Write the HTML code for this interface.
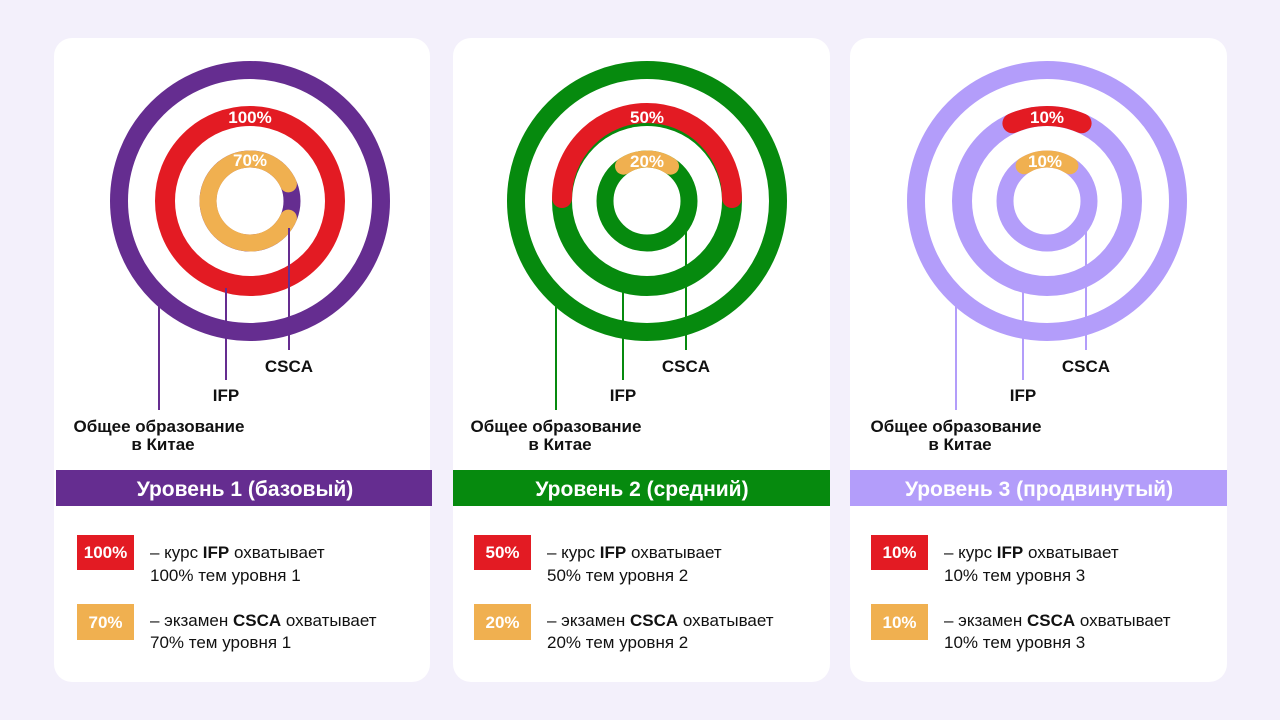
<!DOCTYPE html>
<html><head><meta charset="utf-8"><style>
html,body{margin:0;padding:0;background:#f3f0fb;}
svg{display:block;font-family:"Liberation Sans","DejaVu Sans",sans-serif;}
</style></head><body>
<svg width="1280" height="720" viewBox="0 0 1280 720" xmlns="http://www.w3.org/2000/svg">
<rect width="1280" height="720" fill="#f3f0fb"/>
<rect x="54" y="38" width="376" height="644" rx="18" fill="#fff"/>
<rect x="453" y="38" width="377" height="644" rx="18" fill="#fff"/>
<rect x="850" y="38" width="377" height="644" rx="18" fill="#fff"/>

<g transform="translate(250,0)" fill="none">
 <circle cx="0" cy="201" r="131" stroke="#652d90" stroke-width="18"/>
 <circle cx="0" cy="201" r="85" stroke="#e31b23" stroke-width="20"/>
 <circle cx="0" cy="201" r="42" stroke="#652d90" stroke-width="17"/>
 <path d="M38.4 218.1 A42 42 0 1 1 38.4 183.9" stroke="#f0b050" stroke-width="17" stroke-linecap="round"/>
 <line x1="-91" y1="305" x2="-91" y2="410" stroke="#652d90" stroke-width="2"/>
 <line x1="-24" y1="288" x2="-24" y2="380" stroke="#652d90" stroke-width="2"/>
 <line x1="39" y1="228" x2="39" y2="350" stroke="#652d90" stroke-width="2"/>
</g>
<g transform="translate(647,0)" fill="none">
 <circle cx="0" cy="201" r="131" stroke="#068a0e" stroke-width="18"/>
 <circle cx="0" cy="201" r="85" stroke="#068a0e" stroke-width="20"/>
 <circle cx="0" cy="201" r="42" stroke="#068a0e" stroke-width="17"/>
 <path d="M-85 198 A85 85 0 0 1 85 198" stroke="#e31b23" stroke-width="20" stroke-linecap="round"/>
 <path d="M-23.5 166.2 A42 42 0 0 1 23.5 166.2" stroke="#f0b050" stroke-width="17" stroke-linecap="round"/>
 <line x1="-91" y1="305" x2="-91" y2="410" stroke="#068a0e" stroke-width="2"/>
 <line x1="-24" y1="288" x2="-24" y2="380" stroke="#068a0e" stroke-width="2"/>
 <line x1="39" y1="228" x2="39" y2="350" stroke="#068a0e" stroke-width="2"/>
</g>
<g transform="translate(1047,0)" fill="none">
 <circle cx="0" cy="201" r="131" stroke="#b39dfa" stroke-width="18"/>
 <circle cx="0" cy="201" r="85" stroke="#b39dfa" stroke-width="20"/>
 <circle cx="0" cy="201" r="42" stroke="#b39dfa" stroke-width="17"/>
 <path d="M-34.6 123.3 A85 85 0 0 1 34.6 123.3" stroke="#e31b23" stroke-width="20" stroke-linecap="round"/>
 <path d="M-22.9 165.8 A42 42 0 0 1 22.9 165.8" stroke="#f0b050" stroke-width="17" stroke-linecap="round"/>
 <line x1="-91" y1="305" x2="-91" y2="410" stroke="#b39dfa" stroke-width="2"/>
 <line x1="-24" y1="288" x2="-24" y2="380" stroke="#b39dfa" stroke-width="2"/>
 <line x1="39" y1="228" x2="39" y2="350" stroke="#b39dfa" stroke-width="2"/>
</g>

<g font-weight="bold" fill="#fff" text-anchor="middle" font-size="17">
 <text x="250" y="123">100%</text><text x="250" y="166">70%</text>
 <text x="647" y="123">50%</text><text x="647" y="167">20%</text>
 <text x="1047" y="123">10%</text><text x="1045" y="167">10%</text>
</g>

<g fill="#111" font-size="17" font-weight="bold" text-anchor="middle">
 <text x="289" y="372">CSCA</text><text x="226" y="401">IFP</text>
 <text x="159" y="432">Общее образование</text><text x="163" y="450">в Китае</text>
 <text x="686" y="372">CSCA</text><text x="623" y="401">IFP</text>
 <text x="556" y="432">Общее образование</text><text x="560" y="450">в Китае</text>
 <text x="1086" y="372">CSCA</text><text x="1023" y="401">IFP</text>
 <text x="956" y="432">Общее образование</text><text x="960" y="450">в Китае</text>
</g>

<rect x="56" y="470" width="376" height="36" fill="#652d90"/>
<rect x="453" y="470" width="377" height="36" fill="#068a0e"/>
<rect x="850" y="470" width="377" height="36" fill="#b39dfa"/>
<g fill="#fff" font-size="21" font-weight="bold" text-anchor="middle">
 <text x="245" y="496">Уровень 1 (базовый)</text>
 <text x="642" y="496">Уровень 2 (средний)</text>
 <text x="1039" y="496">Уровень 3 (продвинутый)</text>
</g>

<g font-size="17" fill="#111">
 <g>
  <rect x="77" y="535" width="57" height="35" fill="#e31b23"/>
  <rect x="77" y="604" width="57" height="36" fill="#f0b050"/>
  <text x="105.5" y="558" fill="#fff" font-weight="bold" text-anchor="middle">100%</text>
  <text x="105.5" y="628" fill="#fff" font-weight="bold" text-anchor="middle">70%</text>
  <text x="150" y="558">– курс <tspan font-weight="bold">IFP</tspan> охватывает</text>
  <text x="150" y="581">100% тем уровня 1</text>
  <text x="150" y="626">– экзамен <tspan font-weight="bold">CSCA</tspan> охватывает</text>
  <text x="150" y="648">70% тем уровня 1</text>
 </g>
 <g transform="translate(397,0)">
  <rect x="77" y="535" width="57" height="35" fill="#e31b23"/>
  <rect x="77" y="604" width="57" height="36" fill="#f0b050"/>
  <text x="105.5" y="558" fill="#fff" font-weight="bold" text-anchor="middle">50%</text>
  <text x="105.5" y="628" fill="#fff" font-weight="bold" text-anchor="middle">20%</text>
  <text x="150" y="558">– курс <tspan font-weight="bold">IFP</tspan> охватывает</text>
  <text x="150" y="581">50% тем уровня 2</text>
  <text x="150" y="626">– экзамен <tspan font-weight="bold">CSCA</tspan> охватывает</text>
  <text x="150" y="648">20% тем уровня 2</text>
 </g>
 <g transform="translate(794,0)">
  <rect x="77" y="535" width="57" height="35" fill="#e31b23"/>
  <rect x="77" y="604" width="57" height="36" fill="#f0b050"/>
  <text x="105.5" y="558" fill="#fff" font-weight="bold" text-anchor="middle">10%</text>
  <text x="105.5" y="628" fill="#fff" font-weight="bold" text-anchor="middle">10%</text>
  <text x="150" y="558">– курс <tspan font-weight="bold">IFP</tspan> охватывает</text>
  <text x="150" y="581">10% тем уровня 3</text>
  <text x="150" y="626">– экзамен <tspan font-weight="bold">CSCA</tspan> охватывает</text>
  <text x="150" y="648">10% тем уровня 3</text>
 </g>
</g>
</svg>
</body></html>
